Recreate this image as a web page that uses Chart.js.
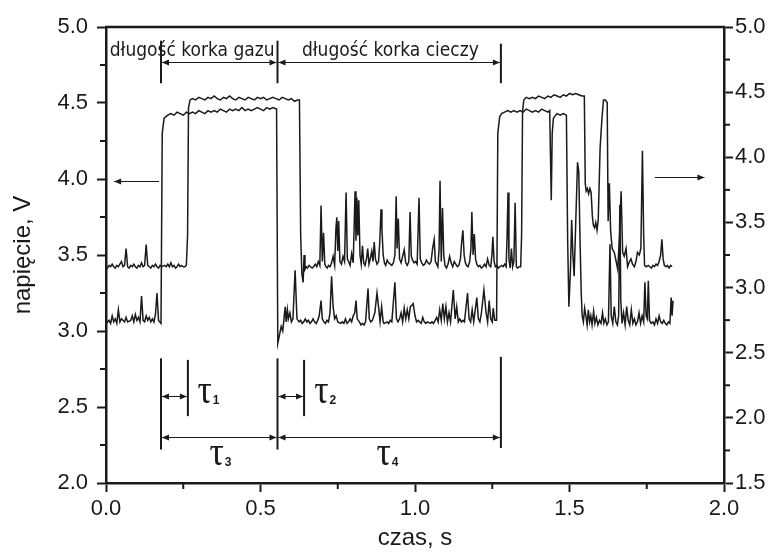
<!DOCTYPE html>
<html>
<head>
<meta charset="utf-8">
<script src="https://cdn.jsdelivr.net/npm/chart.js@4.4.1/dist/chart.umd.min.js"></script>
<style>
html,body{margin:0;padding:0;background:#fff}
canvas{display:block}
</style>
</head>
<body>
<canvas id="chart" width="776" height="554"></canvas>
<script>
// trace 1 (left axis), time in s / voltage in V
let t1=[
0,0.01,0.015,0.02,0.025,0.03,0.035,0.04,0.045,0.05,
0.06,0.065,0.07,0.08,0.085,0.09,0.095,0.1,0.105,0.11,
0.115,0.12,0.125,0.13,0.135,0.14,0.145,0.15,0.155,0.16,
0.165,0.17,0.178,
0.182,0.188,0.2,0.21,0.22,0.23,0.24,0.25,0.26,0.27,
0.28,0.29,0.3,0.31,0.32,0.33,0.34,0.35,0.36,0.37,
0.38,0.39,0.4,0.41,0.42,0.43,0.44,0.45,0.46,0.47,
0.48,0.49,0.5,0.51,0.52,0.53,0.54,0.552,
0.556,0.562,0.567,0.572,0.577,0.58,0.583,0.587,0.59,0.595,
0.6,0.605,0.612,0.618,0.625,0.63,0.635,0.64,0.645,0.65,
0.655,0.66,0.665,0.67,0.675,0.68,0.685,0.69,0.696,0.7,
0.705,0.71,0.715,0.72,0.725,0.73,0.735,0.74,0.745,0.75,
0.76,0.765,0.77,0.775,0.78,0.785,0.79,0.795,0.8,0.805,
0.809,0.813,0.82,0.825,0.83,0.835,0.84,0.848,0.852,0.857,
0.862,0.87,0.877,0.882,0.887,0.892,0.897,0.9,0.91,0.915,
0.92,0.925,0.935,0.94,0.945,0.95,0.955,0.96,0.965,0.97,
0.975,0.98,0.985,0.99,0.994,1,1.005,1.01,1.02,1.025,
1.03,1.035,1.04,1.05,1.055,1.06,1.07,1.075,1.08,1.085,
1.09,1.095,1.1,1.105,1.11,1.115,1.124,1.13,1.135,1.14,
1.145,1.15,1.155,1.16,1.17,1.175,1.18,1.185,1.19,1.2,
1.205,1.21,1.215,1.223,1.23,1.235,1.24,1.245,1.25,1.253,
1.258,1.264,
1.268,1.274,1.28,1.29,1.3,1.31,1.32,1.33,1.34,1.35,
1.36,1.37,1.38,1.39,1.4,1.41,1.42,1.43,1.436,1.438,
1.441,1.444,1.448,1.455,1.46,1.47,1.48,1.49,
1.494,1.498,1.503,1.507,1.511,1.515,1.52,1.526,1.53,1.534,
1.538,1.541,1.545,1.549,1.553,1.557,1.561,1.565,1.569,1.573,
1.578,1.582,1.587,1.592,1.597,1.602,1.607,1.611,1.616,1.621,
1.626,1.631,1.635,1.64,1.645,1.65,1.655,1.659,1.663,1.666,
1.67,1.675,1.68,1.685,1.69,1.695,1.7,1.705,1.71,1.715,
1.72,1.725,1.73,1.735,1.74,1.744,1.748,1.752,1.755,1.759,
1.764,1.77,1.775,1.78,1.785,1.79,1.795,1.8,1.805,1.81,
1.815,1.82,1.825,1.829,1.832,1.835
];
let v1=[
3.05,3.07,3.05,3.10,3.06,3.08,3.05,3.14,3.06,3.08,
3.06,3.09,3.06,3.07,3.10,3.06,3.11,3.07,3.09,3.06,
3.23,3.07,3.06,3.10,3.07,3.09,3.06,3.08,3.06,3.11,
3.25,3.07,3.05,
4.30,4.40,4.42,4.43,4.42,4.44,4.43,4.42,4.44,4.43,
4.44,4.43,4.45,4.44,4.43,4.45,4.44,4.45,4.44,4.46,
4.45,4.44,4.46,4.45,4.46,4.45,4.47,4.45,4.46,4.45,
4.46,4.47,4.46,4.45,4.47,4.46,4.47,4.46,
2.92,2.98,3.03,3.00,3.10,3.16,3.06,3.14,3.08,3.12,
3.06,3.08,3.40,3.08,3.06,3.07,3.05,3.06,3.08,3.06,
3.07,3.05,3.06,3.08,3.06,3.05,3.07,3.10,3.20,3.08,
3.06,3.05,3.07,3.06,3.12,3.36,3.16,3.08,3.10,3.06,
3.05,3.06,3.05,3.08,3.05,3.06,3.08,3.06,3.10,3.12,
3.20,3.08,3.06,3.04,3.05,3.04,3.06,3.28,3.08,3.06,
3.07,3.12,3.25,3.16,3.06,3.16,3.06,3.05,3.06,3.05,
3.07,3.06,3.32,3.08,3.06,3.08,3.12,3.06,3.15,3.08,
3.14,3.08,3.16,3.17,3.18,3.10,3.06,3.07,3.05,3.09,
3.06,3.05,3.06,3.05,3.06,3.05,3.09,3.06,3.14,3.07,
3.18,3.08,3.16,3.06,3.12,3.06,3.27,3.08,3.16,3.06,
3.08,3.06,3.07,3.06,3.25,3.08,3.06,3.14,3.06,3.22,
3.08,3.06,3.12,3.27,3.12,3.06,3.20,3.08,3.06,3.15,
3.07,3.07,
4.30,4.41,4.43,4.44,4.45,4.44,4.45,4.44,4.45,4.44,
4.46,4.45,4.44,4.45,4.44,4.46,4.45,4.44,4.45,4.20,
3.86,4.30,4.40,4.42,4.43,4.42,4.43,4.42,
3.60,3.16,3.40,3.73,3.50,3.36,3.70,4.11,4.05,3.60,
3.25,3.10,3.06,3.15,3.10,3.04,3.14,3.06,3.10,3.04,
3.13,3.05,3.09,3.04,3.07,3.05,3.12,3.05,3.08,3.04,
3.06,3.57,3.10,3.05,3.16,3.06,3.04,3.10,3.83,3.20,
3.05,3.12,3.04,3.16,3.07,3.04,3.14,3.05,3.08,3.04,
3.06,3.12,3.05,3.10,3.06,3.32,3.10,3.08,3.33,3.07,
3.05,3.06,3.04,3.08,3.05,3.10,3.06,3.05,3.07,3.05,
3.04,3.06,3.05,3.22,3.10,3.20
];
// trace 2 (right axis)
let t2=[
0,0.005,0.01,0.015,0.02,0.025,0.03,0.035,0.04,0.045,
0.05,0.055,0.06,0.065,0.07,0.075,0.08,0.085,0.09,0.095,
0.1,0.105,0.11,0.115,0.12,0.125,0.13,0.135,0.14,0.145,
0.15,0.155,0.16,0.165,0.17,0.175,0.18,0.19,0.195,0.2,
0.205,0.21,0.215,0.22,0.225,0.23,0.235,0.24,0.245,0.25,
0.255,0.26,
0.264,0.267,0.272,0.28,0.29,0.3,0.31,0.32,0.33,0.34,
0.35,0.36,0.37,0.38,0.39,0.4,0.41,0.42,0.43,0.44,
0.45,0.46,0.47,0.48,0.49,0.5,0.51,0.52,0.53,0.54,
0.55,0.56,0.57,0.58,0.59,0.6,0.61,0.62,0.626,
0.63,0.634,0.638,0.641,0.644,0.648,0.652,0.657,0.662,0.667,
0.672,0.677,0.682,0.687,0.692,0.696,0.7,0.704,0.708,0.712,
0.716,0.72,0.725,0.73,0.735,0.74,0.744,0.747,0.75,0.753,
0.757,0.762,0.767,0.772,0.777,0.781,0.785,0.79,0.795,0.8,
0.806,0.809,0.812,0.815,0.818,0.822,0.826,0.83,0.834,0.838,
0.843,0.847,0.851,0.856,0.86,0.864,0.868,0.872,0.877,0.882,
0.886,0.89,0.893,0.897,0.901,0.905,0.91,0.915,0.92,0.925,
0.93,0.935,0.939,0.942,0.946,0.95,0.955,0.96,0.965,0.97,
0.975,0.98,0.984,0.988,0.992,0.997,1.002,1.007,1.013,1.017,
1.022,1.027,1.032,1.037,1.042,1.047,1.052,1.057,1.062,1.066,
1.07,1.074,1.078,1.081,1.085,1.089,1.093,1.097,1.102,1.107,
1.112,1.117,1.122,1.127,1.132,1.137,1.142,1.147,1.151,1.155,
1.159,1.163,1.167,1.172,1.177,1.181,1.184,1.188,1.192,1.196,
1.2,1.205,1.21,1.215,1.22,1.225,1.23,1.235,1.24,1.245,
1.249,1.252,1.256,1.26,1.265,1.27,1.275,1.28,1.285,1.29,
1.295,1.298,1.301,1.304,1.308,1.312,1.316,1.32,1.324,1.328,
1.332,1.337,1.342,
1.345,1.348,1.352,1.36,1.37,1.38,1.39,1.4,1.41,1.42,
1.43,1.44,1.45,1.46,1.47,1.48,1.49,1.5,1.51,1.52,
1.53,1.54,1.548,
1.551,1.554,1.558,1.562,1.566,1.57,1.574,1.577,1.581,1.585,
1.589,1.593,1.599,1.605,1.61,1.616,1.622,1.625,1.629,1.633,
1.638,1.645,1.651,1.656,1.662,1.667,1.672,1.677,1.683,1.688,
1.694,1.699,1.704,1.71,1.715,1.72,1.726,1.731,1.736,1.74,
1.743,1.748,1.755,1.76,1.765,1.77,1.775,1.78,1.785,1.79,
1.795,1.799,1.803,1.807,1.812,1.817,1.822,1.827,1.832
];
let v2=[
3.16,3.15,3.17,3.16,3.18,3.16,3.15,3.17,3.16,3.18,
3.20,3.16,3.17,3.30,3.16,3.15,3.17,3.16,3.18,3.16,
3.15,3.17,3.16,3.19,3.16,3.17,3.33,3.17,3.16,3.15,
3.17,3.16,3.18,3.16,3.15,3.17,3.16,3.17,3.16,3.18,
3.16,3.19,3.16,3.17,3.15,3.16,3.18,3.16,3.17,3.16,
3.16,3.17,
3.40,4.38,4.44,4.45,4.44,4.46,4.45,4.44,4.46,4.45,
4.47,4.45,4.44,4.46,4.45,4.47,4.45,4.44,4.46,4.45,
4.44,4.46,4.45,4.44,4.46,4.45,4.46,4.44,4.45,4.46,
4.45,4.44,4.46,4.45,4.44,4.45,4.43,4.44,4.44,
3.40,3.10,3.04,3.25,3.14,3.16,3.15,3.17,3.16,3.15,
3.16,3.18,3.16,3.20,3.17,3.63,3.20,3.42,3.18,3.16,
3.15,3.17,3.16,3.19,3.24,3.17,3.45,3.54,3.28,3.51,
3.20,3.18,3.24,3.20,3.73,3.22,3.20,3.17,3.26,3.19,
3.74,3.36,3.69,3.40,3.67,3.25,3.18,3.32,3.19,3.17,
3.22,3.30,3.18,3.23,3.28,3.20,3.35,3.22,3.18,3.20,
3.35,3.60,3.45,3.25,3.19,3.17,3.21,3.19,3.18,3.17,
3.19,3.25,3.70,3.30,3.53,3.22,3.19,3.24,3.29,3.19,
3.17,3.20,3.58,3.24,3.21,3.19,3.20,3.18,3.69,3.22,
3.19,3.17,3.18,3.21,3.19,3.18,3.20,3.30,3.37,3.20,
3.18,3.16,3.30,3.82,3.20,3.61,3.25,3.17,3.15,3.18,
3.24,3.19,3.16,3.20,3.18,3.16,3.17,3.22,3.35,3.44,
3.25,3.19,3.17,3.16,3.20,3.30,3.58,3.25,3.41,3.22,
3.18,3.16,3.17,3.15,3.16,3.18,3.16,3.22,3.17,3.16,
3.25,3.39,3.20,3.16,3.17,3.15,3.16,3.17,3.16,3.18,
3.16,3.40,3.73,3.22,3.15,3.30,3.16,3.20,3.65,3.16,
3.15,3.16,3.16,
3.40,4.35,4.44,4.46,4.45,4.46,4.45,4.47,4.46,4.45,
4.47,4.46,4.48,4.47,4.46,4.48,4.47,4.49,4.48,4.49,
4.48,4.47,4.47,
3.80,3.74,3.76,3.72,3.76,3.73,3.55,3.48,3.46,3.50,
3.44,3.52,4.07,4.30,4.44,4.44,4.42,3.51,3.80,3.44,
3.30,3.27,3.20,3.14,3.40,3.74,3.27,3.24,3.30,3.16,
3.20,3.22,3.18,3.16,3.20,3.27,3.25,3.30,4.05,3.40,
3.17,3.16,3.17,3.16,3.15,3.17,3.16,3.18,3.17,3.20,
3.25,3.37,3.22,3.17,3.16,3.17,3.15,3.17,3.16
];

let ink='#1a1a1a';
let sans='"Liberation Sans", Arial, sans-serif';
let labelFont='19px "DejaVu Sans Condensed", "DejaVu Sans", sans-serif';

// interval markers (s) used by the annotations
let tStart=0.178, tSlow1=0.265, tMid=0.555, tSlow2=0.641, tEnd=1.278;

function arrowHead(ctx, x, y, dir){
  ctx.beginPath();
  ctx.moveTo(x, y);
  ctx.lineTo(x-dir*7, y-3);
  ctx.lineTo(x-dir*7, y+3);
  ctx.closePath();
  ctx.fill();
}

let decorations={
  id:'decorations',
  afterDraw(chart){
    let ctx=chart.ctx, a=chart.chartArea;
    let sx=chart.scales.x, sy=chart.scales.y;
    let X=v=>sx.getPixelForValue(v), Y=v=>sy.getPixelForValue(v);
    ctx.save();
    ctx.strokeStyle=ink;
    ctx.fillStyle=ink;

    // top frame line
    ctx.lineWidth=2.5;
    ctx.beginPath();
    ctx.moveTo(a.left-1, a.top);
    ctx.lineTo(a.right+1, a.top);
    ctx.stroke();

    // minor ticks
    ctx.lineWidth=2;
    ['x','y','y2'].forEach(id=>{
      let s=chart.scales[id];
      let vals=s.ticks.map(t=>t.value);
      for(let i=0;i<vals.length-1;i++){
        let p=s.getPixelForValue((vals[i]+vals[i+1])/2);
        ctx.beginPath();
        if(id==='x'){ ctx.moveTo(p, a.bottom); ctx.lineTo(p, a.bottom+6); }
        else if(id==='y'){ ctx.moveTo(a.left, p); ctx.lineTo(a.left-6, p); }
        else { ctx.moveTo(a.right, p); ctx.lineTo(a.right+6, p); }
        ctx.stroke();
      }
    });

    let vline=(t,l0,l1)=>{
      ctx.lineWidth=2;
      ctx.beginPath();
      ctx.moveTo(X(t), Y(l0));
      ctx.lineTo(X(t), Y(l1));
      ctx.stroke();
    };
    let harrow=(t0,t1,l,left,right)=>{
      let x0=X(t0)+1, x1=X(t1)-1, y=Math.round(Y(l))+0.5;
      ctx.lineWidth=1;
      ctx.beginPath();
      ctx.moveTo(x0, y);
      ctx.lineTo(x1, y);
      ctx.stroke();
      if(left) arrowHead(ctx, x0, y, -1);
      if(right) arrowHead(ctx, x1, y, 1);
    };

    // top: slug lengths
    vline(tStart, 4.63, 4.91);
    vline(tMid, 4.63, 4.91);
    vline(tEnd, 4.63, 4.89);
    harrow(tStart, tMid, 4.77, true, true);
    harrow(tMid, tEnd, 4.77, true, true);
    ctx.font=labelFont;
    ctx.textAlign='left';
    ctx.textBaseline='alphabetic';
    ctx.fillText('długość korka gazu', X(0.012), Y(4.81));
    ctx.fillText('długość korka cieczy', X(0.634), Y(4.81));

    // axis indicator arrows
    harrow(0.023, 0.175, 3.99, true, false);
    harrow(1.773, 1.94, 4.01, false, true);

    // bottom: time intervals
    vline(tStart, 2.22, 2.82);
    vline(tSlow1, 2.44, 2.81);
    vline(tMid, 2.22, 2.82);
    vline(tSlow2, 2.44, 2.81);
    vline(tEnd, 2.23, 2.83);
    harrow(tStart, tSlow1, 2.57, true, true);
    harrow(tMid, tSlow2, 2.57, true, true);
    harrow(tStart, tMid, 2.30, true, true);
    harrow(tMid, tEnd, 2.30, true, true);

    let tau=(t,l,sub)=>{
      let x=X(t), y=Y(l);
      ctx.save();
      ctx.translate(x, y);
      ctx.scale(0.85, 1);
      ctx.font='42px "Liberation Serif", serif';
      ctx.textAlign='left';
      ctx.textBaseline='alphabetic';
      ctx.fillText('τ', 0, 0);
      let w=ctx.measureText('τ').width*0.85;
      ctx.restore();
      ctx.font='bold 12px '+sans;
      ctx.textAlign='left';
      ctx.fillText(sub, x+w+1, y+1);
    };
    tau(0.296, 2.526, '1');
    tau(0.674, 2.526, '2');
    tau(0.335, 2.118, '3');
    tau(0.875, 2.118, '4');
    ctx.restore();
  }
};

let fmt=v=>Number(v).toFixed(1);
let gridOpts={drawOnChartArea:false, drawTicks:true, tickLength:9, tickWidth:2, tickColor:ink, color:ink};
let borderOpts={display:true, width:2.5, color:ink};

new Chart(document.getElementById('chart'), {
  type:'line',
  data:{
    datasets:[
      {data:t1.map((t,i)=>({x:t, y:v1[i]})), yAxisID:'y', borderColor:ink, borderWidth:1.5, pointRadius:0, tension:0},
      {data:t2.map((t,i)=>({x:t, y:v2[i]})), yAxisID:'y2', borderColor:ink, borderWidth:1.5, pointRadius:0, tension:0}
    ]
  },
  options:{
    responsive:false,
    animation:false,
    devicePixelRatio:1,
    layout:{padding:{top:27, left:0, right:0, bottom:0}},
    plugins:{legend:{display:false}, tooltip:{enabled:false}},
    scales:{
      x:{
        type:'linear', min:0, max:2,
        ticks:{stepSize:0.5, callback:fmt, color:ink, font:{family:sans, size:22}, padding:4, maxRotation:0, autoSkip:false},
        grid:gridOpts, border:borderOpts,
        title:{display:true, text:'czas, s', color:ink, font:{family:sans, size:24}, padding:{top:0, bottom:1}},
        afterFit:s=>{ s.height=71; }
      },
      y:{
        position:'left', min:2, max:5,
        ticks:{stepSize:0.5, callback:fmt, color:ink, font:{family:sans, size:22}, padding:9},
        grid:gridOpts, border:borderOpts,
        title:{display:true, text:'napięcie, V', color:ink, font:{family:sans, size:24}, padding:{top:9, bottom:0}},
        afterFit:s=>{ s.width=106; }
      },
      y2:{
        position:'right', min:1.5, max:5,
        ticks:{stepSize:0.5, callback:fmt, color:ink, font:{family:sans, size:22}, padding:2},
        grid:gridOpts, border:borderOpts,
        afterFit:s=>{ s.width=52; }
      }
    }
  },
  plugins:[decorations]
});
</script>
</body>
</html>
